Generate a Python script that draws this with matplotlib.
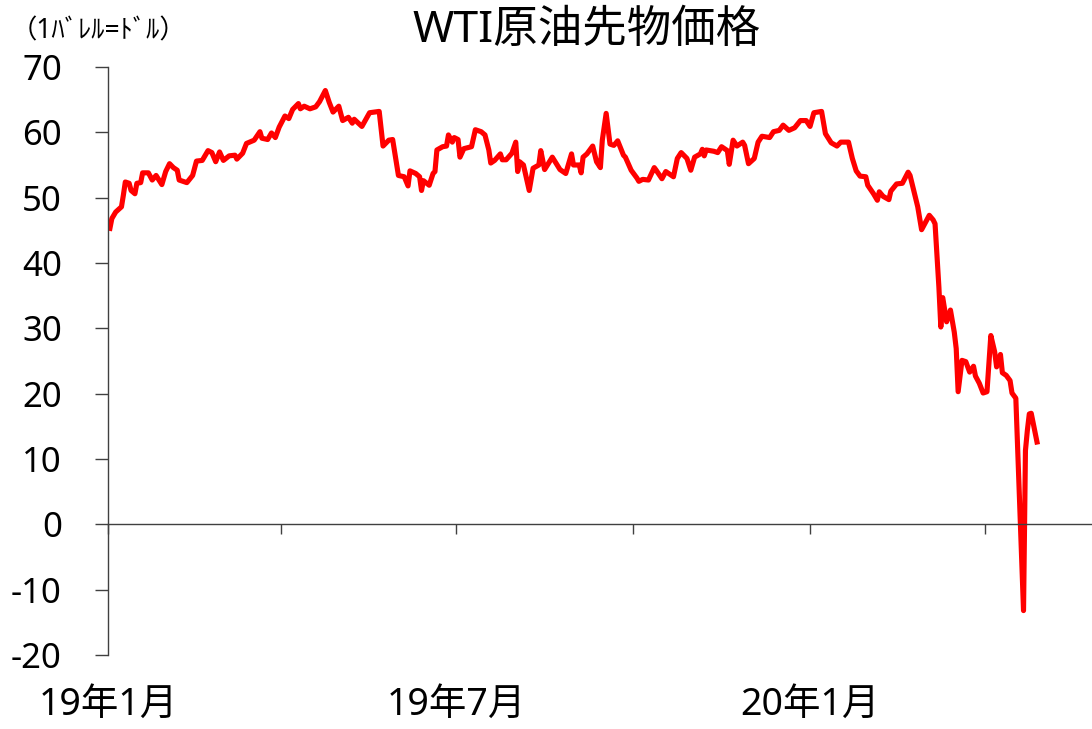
import matplotlib.pyplot as plt
import pandas as pd

plt.rcParams['font.family'] = ['Noto Sans', 'Noto Sans CJK JP', 'DejaVu Sans']
plt.rcParams['axes.unicode_minus'] = False

# WTI先物 終値（ドル/バレル）、グラフから読み取り
dates = [
    '2019-01-02', '2019-01-03', '2019-01-05', '2019-01-08', '2019-01-09', '2019-01-10',
    '2019-01-12', '2019-01-13', '2019-01-15', '2019-01-16', '2019-01-18', '2019-01-19',
    '2019-01-22', '2019-01-24', '2019-01-26', '2019-01-29', '2019-01-31', '2019-02-02',
    '2019-02-04', '2019-02-06', '2019-02-07', '2019-02-11', '2019-02-14', '2019-02-16',
    '2019-02-19', '2019-02-22', '2019-02-24', '2019-02-26', '2019-02-28', '2019-03-02',
    '2019-03-05', '2019-03-08', '2019-03-09', '2019-03-12', '2019-03-14', '2019-03-18',
    '2019-03-21', '2019-03-22', '2019-03-25', '2019-03-27', '2019-03-29', '2019-03-31',
    '2019-04-03', '2019-04-05', '2019-04-07', '2019-04-10', '2019-04-11', '2019-04-13',
    '2019-04-16', '2019-04-19', '2019-04-21', '2019-04-24', '2019-04-26', '2019-04-28',
    '2019-05-01', '2019-05-03', '2019-05-06', '2019-05-08', '2019-05-09', '2019-05-13',
    '2019-05-17', '2019-05-22', '2019-05-24', '2019-05-27', '2019-05-29', '2019-06-01',
    '2019-06-04', '2019-06-06', '2019-06-07', '2019-06-10', '2019-06-12', '2019-06-13',
    '2019-06-14', '2019-06-17', '2019-06-19', '2019-06-20', '2019-06-21', '2019-06-24',
    '2019-06-26', '2019-06-27', '2019-06-29', '2019-06-30', '2019-07-02', '2019-07-03',
    '2019-07-05', '2019-07-09', '2019-07-11', '2019-07-14', '2019-07-16', '2019-07-18',
    '2019-07-19', '2019-07-21', '2019-07-24', '2019-07-25', '2019-07-27', '2019-07-30',
    '2019-08-01', '2019-08-02', '2019-08-03', '2019-08-05', '2019-08-08', '2019-08-10',
    '2019-08-13', '2019-08-14', '2019-08-16', '2019-08-20', '2019-08-24', '2019-08-27',
    '2019-08-30', '2019-08-31', '2019-09-03', '2019-09-04', '2019-09-05', '2019-09-07',
    '2019-09-10', '2019-09-12', '2019-09-14', '2019-09-15', '2019-09-17', '2019-09-19',
    '2019-09-21', '2019-09-23', '2019-09-26', '2019-09-27', '2019-09-30', '2019-10-03',
    '2019-10-04', '2019-10-06', '2019-10-09', '2019-10-12', '2019-10-13', '2019-10-16',
    '2019-10-18', '2019-10-22', '2019-10-24', '2019-10-26', '2019-10-29', '2019-10-31',
    '2019-11-02', '2019-11-05', '2019-11-06', '2019-11-07', '2019-11-08', '2019-11-12',
    '2019-11-14', '2019-11-16', '2019-11-19', '2019-11-20', '2019-11-22', '2019-11-24',
    '2019-11-27', '2019-11-28', '2019-11-30', '2019-12-03', '2019-12-05', '2019-12-07',
    '2019-12-11', '2019-12-13', '2019-12-16', '2019-12-18', '2019-12-21', '2019-12-24',
    '2019-12-27', '2019-12-30', '2020-01-01', '2020-01-03', '2020-01-07', '2020-01-09',
    '2020-01-12', '2020-01-15', '2020-01-17', '2020-01-21', '2020-01-23', '2020-01-25',
    '2020-01-27', '2020-01-30', '2020-01-31', '2020-02-03', '2020-02-05', '2020-02-06',
    '2020-02-08', '2020-02-11', '2020-02-12', '2020-02-15', '2020-02-18', '2020-02-21',
    '2020-02-22', '2020-02-24', '2020-02-26', '2020-02-28', '2020-03-03', '2020-03-05',
    '2020-03-06', '2020-03-08', '2020-03-09', '2020-03-10', '2020-03-12', '2020-03-14',
    '2020-03-16', '2020-03-17', '2020-03-18', '2020-03-20', '2020-03-22', '2020-03-24',
    '2020-03-26', '2020-03-27', '2020-03-29', '2020-03-31', '2020-04-02', '2020-04-03',
    '2020-04-04', '2020-04-06', '2020-04-07', '2020-04-09', '2020-04-10', '2020-04-12',
    '2020-04-14', '2020-04-15', '2020-04-17', '2020-04-21', '2020-04-22', '2020-04-23',
    '2020-04-24', '2020-04-25', '2020-04-28',
]
prices = [
    45.3, 46.8, 47.8, 48.6, 50.4, 52.4,
    52.2, 51.1, 50.6, 52.2, 52.3, 53.8,
    53.8, 52.7, 53.4, 52.0, 54.0, 55.2,
    54.6, 54.2, 52.7, 52.3, 53.4, 55.6,
    55.7, 57.2, 56.9, 55.5, 57.0, 55.7,
    56.4, 56.5, 55.9, 56.8, 58.3, 58.8,
    60.1, 59.1, 58.9, 59.9, 59.2, 60.8,
    62.5, 62.1, 63.5, 64.4, 63.6, 64.0,
    63.6, 63.9, 64.7, 66.4, 64.6, 63.1,
    64.0, 61.8, 62.3, 61.4, 62.0, 60.9,
    63.0, 63.2, 57.9, 58.8, 58.9, 53.4,
    53.2, 51.8, 54.1, 53.7, 53.2, 51.1,
    52.6, 51.9, 53.7, 54.0, 57.3, 57.8,
    57.9, 59.6, 58.5, 59.2, 58.9, 56.2,
    57.5, 57.8, 60.4, 60.1, 59.6, 57.3,
    55.3, 55.7, 56.7, 55.8, 55.8, 56.8,
    58.5, 54.0, 55.5, 55.0, 51.1, 54.5,
    55.0, 57.2, 54.3, 56.2, 54.3, 53.7,
    56.7, 55.0, 55.0, 53.8, 56.2, 56.7,
    57.9, 55.5, 54.6, 58.8, 62.9, 58.2,
    58.0, 58.7, 56.5, 56.2, 54.2, 53.0,
    52.5, 52.8, 52.7, 54.6, 54.2, 52.9,
    54.0, 53.2, 56.0, 56.9, 56.0, 54.2,
    56.2, 56.7, 57.4, 56.4, 57.3, 57.1,
    56.9, 57.8, 57.2, 55.1, 58.8, 57.9,
    58.5, 58.0, 55.2, 56.0, 58.5, 59.4,
    59.2, 60.1, 60.3, 61.1, 60.3, 60.7,
    61.8, 61.8, 60.9, 63.0, 63.2, 59.8,
    58.4, 57.9, 58.5, 58.5, 56.0, 54.1,
    53.3, 53.2, 51.9, 50.6, 49.6, 50.9,
    50.2, 49.7, 51.0, 52.1, 52.2, 53.9,
    53.4, 51.0, 48.6, 45.1, 47.3, 46.6,
    46.0, 36.3, 30.2, 34.7, 31.0, 32.8,
    29.4, 26.9, 20.3, 25.1, 24.9, 23.3,
    24.2, 22.7, 21.6, 20.1, 20.3, 24.5,
    28.9, 26.4, 24.1, 26.0, 23.2, 22.8,
    22.0, 20.1, 19.3, -13.2, 11.3, 14.4,
    16.9, 17.0, 12.6,
]

tick_dates = ['2019-01-01', '2019-04-01', '2019-07-01', '2019-10-01', '2020-01-01', '2020-04-01']
tick_labels = ['19年1月', '', '19年7月', '', '20年1月', '']
y_ticks = list(range(-20, 71, 10))

x = pd.to_datetime(dates)
start = pd.Timestamp('2019-01-01')

fig = plt.figure(figsize=(10.92, 7.29), dpi=100)
ax = fig.add_axes([0.0989, 0.1015, 0.9011, 0.8066])

ax.plot(x, prices, color='#ff0000', linewidth=3.7, solid_joinstyle='round')

ax.set_xlim(start, start + pd.Timedelta(days=511.6))
ax.set_ylim(-20, 70)

ax.spines['top'].set_visible(False)
ax.spines['right'].set_visible(False)
ax.spines['bottom'].set_position(('data', 0))
for side in ['left', 'bottom']:
    ax.spines[side].set_color('#404040')
    ax.spines[side].set_linewidth(1.0)

ax.set_xticks(pd.to_datetime(tick_dates))
ax.set_xticklabels(tick_labels)
ax.set_yticks(y_ticks)
ax.set_yticklabels([str(v) for v in y_ticks])

ax.tick_params(axis='x', direction='out', length=7.2, width=1.0, color='#404040',
               pad=109, labelsize=27)
ax.tick_params(axis='y', direction='out', length=9.4, width=1.0, color='#404040',
               pad=23.8, labelsize=25)

fig.text(0.537, 0.957, 'WTI原油先物価格', ha='center', va='center', fontsize=32)
fig.text(0.010, 0.957, '（1ﾊﾞﾚﾙ=ﾄﾞﾙ）', ha='left', va='center', fontsize=19)

fig.savefig('out.png', dpi=100)
